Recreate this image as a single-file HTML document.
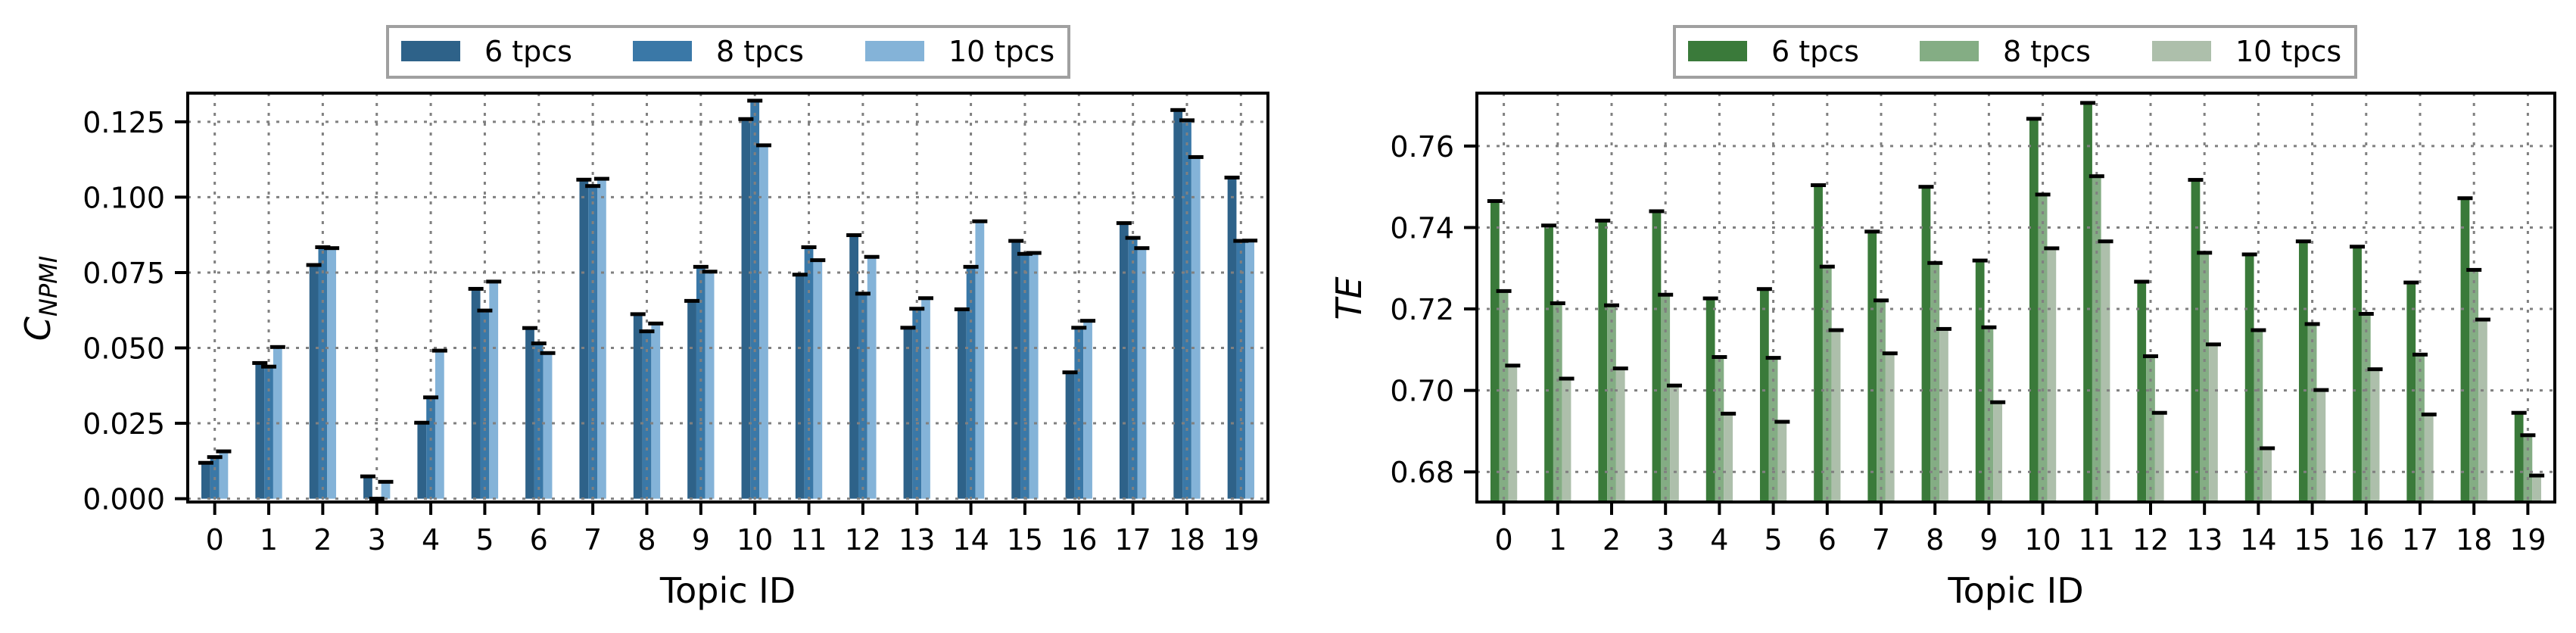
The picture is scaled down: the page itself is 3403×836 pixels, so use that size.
<!DOCTYPE html>
<html><head><meta charset="utf-8"><style>
html,body{margin:0;padding:0;background:#fff;}
svg{display:block;font-family:"DejaVu Sans","Liberation Sans",sans-serif;}
</style></head><body>
<svg id="fig" width="3403" height="836" viewBox="0 0 3403 836" xmlns="http://www.w3.org/2000/svg"></svg>
<script>
const topics = [0,1,2,3,4,5,6,7,8,9,10,11,12,13,14,15,16,17,18,19];
const seriesNames = ["6 tpcs","8 tpcs","10 tpcs"];
const npmi6  = [0.0119,0.0450,0.0775,0.0074,0.0252,0.0696,0.0566,0.1058,0.0612,0.0656,0.1259,0.0743,0.0874,0.0567,0.0628,0.0855,0.0419,0.0914,0.1289,0.1065];
const npmi8  = [0.0138,0.0438,0.0834,0.0000,0.0336,0.0624,0.0515,0.1037,0.0555,0.0769,0.1320,0.0834,0.0680,0.0630,0.0769,0.0812,0.0567,0.0865,0.1255,0.0855];
const npmi10 = [0.0157,0.0503,0.0831,0.0056,0.0491,0.0720,0.0483,0.1061,0.0581,0.0753,0.1172,0.0791,0.0802,0.0665,0.0920,0.0815,0.0590,0.0831,0.1133,0.0856];
const te6  = [0.7465,0.7405,0.7417,0.7440,0.7226,0.7249,0.7504,0.7390,0.7500,0.7319,0.7667,0.7706,0.7267,0.7517,0.7334,0.7366,0.7353,0.7265,0.7472,0.6945];
const te8  = [0.7244,0.7214,0.7209,0.7235,0.7082,0.7080,0.7304,0.7221,0.7313,0.7155,0.7481,0.7526,0.7084,0.7338,0.7148,0.7163,0.7188,0.7088,0.7296,0.6890];
const te10 = [0.7061,0.7029,0.7054,0.7012,0.6943,0.6923,0.7148,0.7091,0.7151,0.6971,0.7349,0.7366,0.6945,0.7113,0.6858,0.7001,0.7052,0.6941,0.7174,0.6791];
const npmiTicks = [0.000,0.025,0.050,0.075,0.100,0.125];
const npmiTickLabels = ["0.000","0.025","0.050","0.075","0.100","0.125"];
const teTicks = [0.68,0.70,0.72,0.74,0.76];
const teTickLabels = ["0.68","0.70","0.72","0.74","0.76"];

const NS = "http://www.w3.org/2000/svg";
const svg = document.getElementById("fig");
function mk(tag, attrs, parent){
  const e = document.createElementNS(NS, tag);
  for (const k in attrs) e.setAttribute(k, attrs[k]);
  (parent||svg).appendChild(e);
  return e;
}

function drawPanel(cfg){
  const g = mk("g", {});
  
  
  const L=cfg.left, R=cfg.right, T=123, B=663;
  const xs = v => L + (v - (-0.5)) / 20 * (R - L);
  const ys = v => B - (v - cfg.ymin) / (cfg.ymax - cfg.ymin) * (B - T);
  const bw = 0.165;
  const offs = [-bw, 0, bw];
  // bars
  cfg.series.forEach((arr, si) => {
    arr.forEach((v, i) => {
      const cx = xs(topics[i] + offs[si]);
      const y0 = ys(Math.max(cfg.ymin, cfg.base));
      const y1 = ys(v);
      const r = mk("rect", {x: cx - bw/2*(R-L)/20, y: Math.min(y0,y1), width: bw*(R-L)/20, height: Math.abs(y0-y1), fill: cfg.colors[si]}, g);
      
      
    });
  });
  // grid
  topics.forEach(t => {
    const l = mk("line", {x1: xs(t), x2: xs(t), y1: T, y2: B, stroke: "#808080", "stroke-width": 3, "stroke-dasharray": "4,9"}, g);
    
    
  });
  cfg.ticks.forEach(t => {
    const l = mk("line", {x1: L, x2: R, y1: ys(t), y2: ys(t), stroke: "#808080", "stroke-width": 3, "stroke-dasharray": "4,9"}, g);
    
    
  });
  // caps
  cfg.series.forEach((arr, si) => {
    arr.forEach((v, i) => {
      const cx = xs(topics[i] + offs[si]);
      const c = mk("rect", {x: cx - 10, y: ys(v) - 2.5, width: 20, height: 5, fill: "#000"}, g);
      
      
    });
  });
  // frame
  const f = mk("rect", {x: L, y: T, width: R-L, height: B-T, fill: "none", stroke: "#000", "stroke-width": 4}, g);
  
  
  // x ticks
  topics.forEach(t => {
    const l = mk("line", {x1: xs(t), x2: xs(t), y1: B, y2: B+17, stroke: "#000", "stroke-width": 4}, g);
    
    
    const tx = mk("text", {x: xs(t), y: 726, "font-size": 38, "text-anchor": "middle", fill: "#000"}, g);
    tx.textContent = String(t);
    
    
  });
  cfg.ticks.forEach((t, k) => {
    const l = mk("line", {x1: L-17, x2: L, y1: ys(t), y2: ys(t), stroke: "#000", "stroke-width": 4}, g);
    
    
    const tx = mk("text", {x: L-30, y: ys(t)+14, "font-size": 38, "text-anchor": "end", fill: "#000"}, g);
    tx.textContent = cfg.tickLabels[k];
    
    
  });
  const xl = mk("text", {x: (L+R)/2, y: 796, "font-size": 46, "text-anchor": "middle", fill: "#000"}, g);
  xl.textContent = "Topic ID";
  
  
  // legend
  const lx = cfg.legendX;
  const lb = mk("rect", {x: lx, y: 35, width: 900, height: 67, fill: "#fff", stroke: "#a0a0a0", "stroke-width": 4}, g);
  
  
  [18, 324, 631].forEach((o, si) => {
    const p = mk("rect", {x: lx+o, y: 54, width: 78, height: 27, fill: cfg.colors[si]}, g);
    
    
    const t = mk("text", {x: lx+o+110, y: 81, "font-size": 38, fill: "#000"}, g);
    t.textContent = seriesNames[si];
    
    
  });
  return g;
}

drawPanel({name: "npmi-chart", short: "npmi", left: 248, right: 1675, ymin: -0.0011, ymax: 0.1345, base: 0,
  series: [npmi6, npmi8, npmi10], colors: ["#2e6289", "#3a78a7", "#84b3d8"],
  ticks: npmiTicks, tickLabels: npmiTickLabels, legendX: 512});
drawPanel({name: "te-chart", short: "te", left: 1951, right: 3375, ymin: 0.6726, ymax: 0.773, base: 0.6,
  series: [te6, te8, te10], colors: ["#3a7a3a", "#84ad84", "#adbfab"],
  ticks: teTicks, tickLabels: teTickLabels, legendX: 2212});

// y axis titles
const y1 = mk("text", {x: 0, y: 0, "font-size": 46, "font-style": "italic", "text-anchor": "middle", transform: "translate(66,394) rotate(-90)", fill: "#000"});
y1.innerHTML = 'C<tspan font-size="32" dy="9">NPMI</tspan>';


const y2 = mk("text", {x: 0, y: 0, "font-size": 46, "font-style": "italic", "text-anchor": "middle", transform: "translate(1798,394) rotate(-90)", fill: "#000"});
y2.textContent = "TE";


</script>
</body></html>
